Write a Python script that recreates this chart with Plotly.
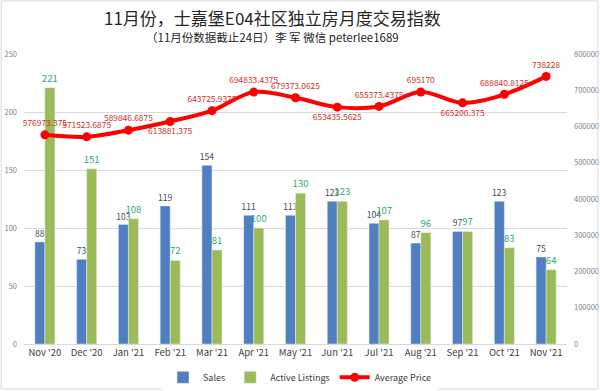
import plotly.graph_objects as go

months = ["Nov '20", "Dec '20", "Jan '21", "Feb '21", "Mar '21", "Apr '21", "May '21",
          "Jun '21", "Jul '21", "Aug '21", "Sep '21", "Oct '21", "Nov '21"]
sales = [88, 73, 103, 119, 154, 111, 111, 123, 104, 87, 97, 123, 75]
listings = [221, 151, 108, 72, 81, 100, 130, 123, 107, 96, 97, 83, 64]
avg_price = [576973.375, 571523.6875, 589846.6875, 613881.375, 643725.9375, 694833.4375,
             679373.0625, 653435.5625, 655373.4375, 695170, 665200.375, 688840.8125, 738228]
price_labels = ["576973.375", "571523.6875", "589846.6875", "613881.375", "643725.9375",
                "694833.4375", "679373.0625", "653435.5625", "655373.4375", "695170",
                "665200.375", "688840.8125", "738228"]
price_pos = ["top center", "top center", "top center", "bottom center", "top center",
             "top center", "top center", "bottom center", "top center", "top center",
             "bottom center", "top center", "top center"]

font_main = "Noto Sans CJK SC, Noto Sans, sans-serif"

fig = go.Figure()
fig.add_trace(go.Bar(
    x=months, y=sales, name="Sales", marker_color="#4F7EC1",
    text=[str(v) for v in sales], textposition="outside", constraintext="none",
    textfont=dict(size=8.5, color="#404A5A"), cliponaxis=False, yaxis="y"))
fig.add_trace(go.Bar(
    x=months, y=listings, name="Active Listings", marker_color="#9BBB59",
    text=[str(v) for v in listings], textposition="outside", constraintext="none",
    textfont=dict(size=9.5, color="#2EAA6E"), cliponaxis=False, yaxis="y"))
fig.add_trace(go.Scatter(
    x=months, y=avg_price, name="Average Price", yaxis="y2",
    mode="lines+markers+text", line=dict(color="#FF0000", width=4, shape="spline"),
    marker=dict(size=9, color="#FF0000"),
    text=price_labels, textposition=price_pos,
    textfont=dict(size=8.4, color="#D0312D"), cliponaxis=False))

fig.update_layout(
    width=600, height=391,
    margin=dict(l=24, r=33, t=54, b=47, autoexpand=False),
    paper_bgcolor="white", plot_bgcolor="white",
    font=dict(family=font_main, color="#595959"),
    barmode="group", bargap=0.52, bargroupgap=0,
    showlegend=True,
    legend=dict(orientation="h", x=0.5, xanchor="center", xref="container",
                y=0.035, yanchor="middle", yref="container",
                font=dict(size=9, color="#404040"), traceorder="normal",
                itemwidth=30, tracegroupgap=0),
    xaxis=dict(showgrid=False, showline=True, linecolor="#D9D9D9", ticks="",
               range=[-0.5, len(months) - 0.5],
               tickfont=dict(size=9.5, color="#404040"), automargin=False),
    yaxis=dict(range=[0, 250], dtick=50, showgrid=True, gridcolor="#D9D9D9",
               zeroline=False, ticks="", tickfont=dict(size=7.5, color="#7F7F7F"),
               ticklabelstandoff=6, automargin=False),
    yaxis2=dict(range=[0, 800000], dtick=100000, overlaying="y", side="right",
                showgrid=False, zeroline=False, ticks="", tickformat="d",
                tickfont=dict(size=7.5, color="#7F7F7F"), ticklabelstandoff=6,
                automargin=False),
    annotations=[
        dict(text="11月份，士嘉堡E04社区独立房月度交易指数", xref="paper", yref="paper",
             x=0.457, y=(344 - 18) / 290, xanchor="center", yanchor="middle", showarrow=False,
             font=dict(size=17, color="#262626", family=font_main)),
        dict(text="（11月份数据截止24日）李 军 微信 peterlee1689", xref="paper", yref="paper",
             x=0.457, y=(344 - 37) / 290, xanchor="center", yanchor="middle", showarrow=False,
             font=dict(size=11.5, color="#262626", family=font_main)),
    ],
    shapes=[dict(type="rect", xref="paper", yref="paper",
                 x0=-0.042, x1=1.057, y0=-0.155, y1=1.183,
                 line=dict(color="#D9D9D9", width=1))],
)

fig.write_html("out.html", config={"displayModeBar": False},
               post_script="document.body.style.margin='0';document.body.style.padding='0';")
